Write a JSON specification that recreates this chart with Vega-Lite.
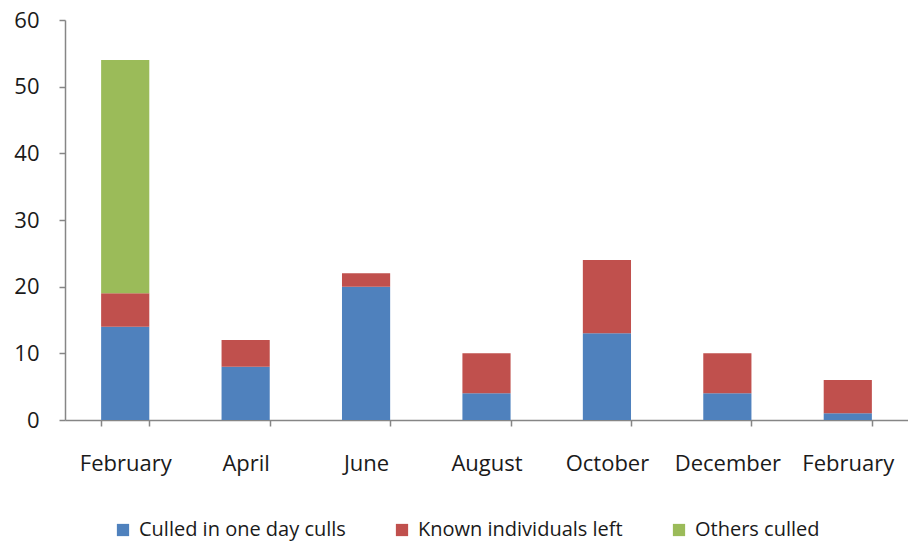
{
  "$schema": "https://vega.github.io/schema/vega-lite/v6.json",
  "autosize": {"type": "none"},
  "width": 843,
  "height": 400,
  "padding": {"left": 65, "top": 20, "right": 0, "bottom": 121},
  "background": "white",
  "config": {"view": {"stroke": null}, "font": "Open Sans"},
  "data": {
    "values": [
      {"month": "February", "series": "Culled in one day culls", "ord": 1, "value": 14},
      {"month": "February", "series": "Known individuals left", "ord": 2, "value": 5},
      {"month": "February", "series": "Others culled", "ord": 3, "value": 35},
      {"month": "April", "series": "Culled in one day culls", "ord": 1, "value": 8},
      {"month": "April", "series": "Known individuals left", "ord": 2, "value": 4},
      {"month": "June", "series": "Culled in one day culls", "ord": 1, "value": 20},
      {"month": "June", "series": "Known individuals left", "ord": 2, "value": 2},
      {"month": "August", "series": "Culled in one day culls", "ord": 1, "value": 4},
      {"month": "August", "series": "Known individuals left", "ord": 2, "value": 6},
      {"month": "October", "series": "Culled in one day culls", "ord": 1, "value": 13},
      {"month": "October", "series": "Known individuals left", "ord": 2, "value": 11},
      {"month": "December", "series": "Culled in one day culls", "ord": 1, "value": 4},
      {"month": "December", "series": "Known individuals left", "ord": 2, "value": 6},
      {"month": "February (2)", "series": "Culled in one day culls", "ord": 1, "value": 1},
      {"month": "February (2)", "series": "Known individuals left", "ord": 2, "value": 5}
    ]
  },
  "mark": {"type": "bar"},
  "encoding": {
    "x": {
      "field": "month",
      "type": "nominal",
      "sort": ["February", "April", "June", "August", "October", "December", "February (2)"],
      "scale": {"paddingInner": 0.6, "paddingOuter": 0.3},
      "axis": {
        "title": null,
        "labelAngle": 0,
        "labelExpr": "replace(datum.label, ' (2)', '')",
        "labelFontSize": 22,
        "labelColor": "#1a1a1a",
        "labelPadding": 27,
        "tickBand": "extent",
        "tickSize": 6,
        "tickColor": "#868686",
        "domainColor": "#868686",
        "domainWidth": 1.5,
        "tickWidth": 1.5,
        "grid": false
      }
    },
    "y": {
      "field": "value",
      "type": "quantitative",
      "stack": "zero",
      "scale": {"domain": [0, 60], "nice": false},
      "axis": {
        "title": null,
        "values": [0, 10, 20, 30, 40, 50, 60],
        "labelFontSize": 22,
        "labelColor": "#1a1a1a",
        "labelPadding": 20,
        "tickSize": 6,
        "tickColor": "#868686",
        "domainColor": "#868686",
        "domainWidth": 1.5,
        "tickWidth": 1.5,
        "grid": false
      }
    },
    "color": {
      "field": "series",
      "type": "nominal",
      "scale": {
        "domain": ["Culled in one day culls", "Known individuals left", "Others culled"],
        "range": ["#4F81BD", "#C0504D", "#9BBB59"]
      },
      "legend": {
        "title": null,
        "orient": "none",
        "direction": "horizontal",
        "legendX": 48,
        "legendY": 500,
        "symbolType": "square",
        "symbolSize": 150,
        "symbolStrokeWidth": 0,
        "labelFontSize": 20,
        "labelLimit": 400,
        "labelColor": "#1a1a1a",
        "columnPadding": 46,
        "labelOffset": 6
      }
    },
    "order": {"field": "ord", "type": "quantitative"}
  }
}
